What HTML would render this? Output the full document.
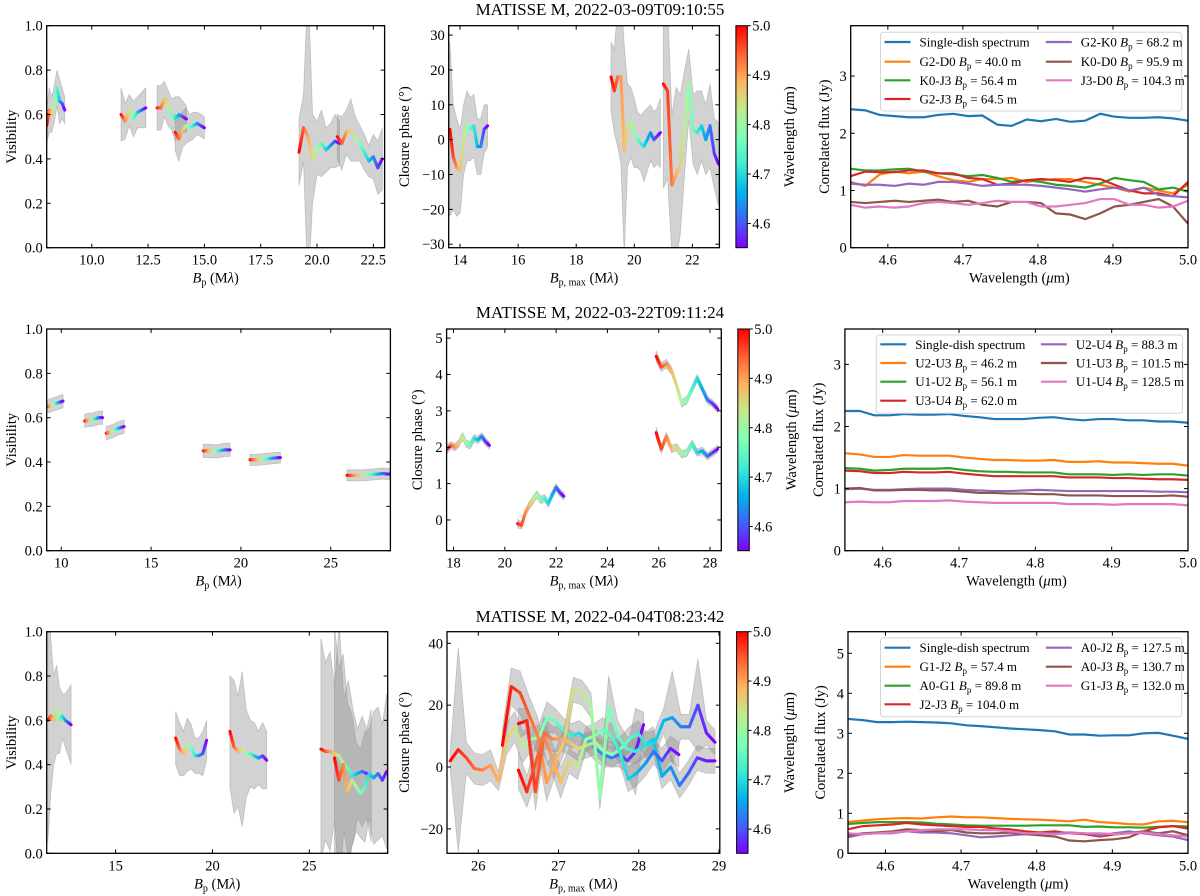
<!DOCTYPE html>
<html><head><meta charset="utf-8"><style>
html,body{margin:0;padding:0;background:#fff}
svg{display:block;font-family:"Liberation Serif","DejaVu Serif",serif}
</style></head><body>
<svg id="fig" width="1200" height="896" viewBox="0 0 1200 896" xmlns="http://www.w3.org/2000/svg">
<defs>
<linearGradient id="rb" x1="0" y1="1" x2="0" y2="0">
<stop offset="0" stop-color="#8000ff"/><stop offset="0.125" stop-color="#4062fa"/><stop offset="0.25" stop-color="#00b5eb"/><stop offset="0.375" stop-color="#40ecd4"/><stop offset="0.5" stop-color="#80ffb4"/><stop offset="0.625" stop-color="#c0eb8d"/><stop offset="0.75" stop-color="#ffb360"/><stop offset="0.875" stop-color="#ff6130"/><stop offset="1" stop-color="#ff0000"/>
</linearGradient>
</defs>
</svg>
<script>
// ---------- DATA ----------
const wl = [4.550,4.570,4.589,4.609,4.628,4.648,4.667,4.687,4.707,4.726,4.746,4.765,4.785,4.804,4.824,4.843,4.863,4.883,4.902,4.922,4.941,4.961,4.980,5.000];
// Row 1 visibility
const vis1Ranges = [[8.0,8.8],[11.3,12.4],[12.9,14.2],[13.7,15.0],[19.2,21.0],[20.9,22.9]];
const vis1Vals = [[0.55,0.62,0.6,0.65,0.72,0.66,0.65,0.62],[0.6,0.57,0.62,0.58,0.61,0.62,0.63],[0.63,0.63,0.67,0.63,0.6,0.58,0.6,0.59,0.58],[0.52,0.49,0.53,0.55,0.54,0.55,0.56,0.55,0.54],[0.43,0.54,0.5,0.4,0.45,0.47,0.44,0.46,0.48,0.47],[0.5,0.47,0.52,0.53,0.49,0.47,0.43,0.39,0.41,0.36,0.4]];
const vis1Errs = [[0.08,0.1,0.08,0.08,0.08,0.1,0.07,0.06],[0.12,0.08,0.07,0.08,0.07,0.08,0.09],[0.1,0.1,0.08,0.08,0.07,0.1,0.08,0.07,0.06],[0.08,0.1,0.08,0.08,0.06,0.06,0.05,0.05,0.05],[0.15,0.15,0.7,0.2,0.12,0.15,0.1,0.1,0.12,0.1],[0.1,0.12,0.1,0.14,0.1,0.08,0.08,0.07,0.1,0.12,0.14]];
// Row 1 closure phase
const cp1Ranges = [[13.65,14.95],[19.2,20.9],[21.0,22.9]];
const cp1Vals = [[3,-5,-8,-9,0,4,3,4,-2,-2,3,4],[18,14,18,18,-3,4,5,2,0,-1,-2,0,2,0,1,2],[16,14,-13,-10,-7,5,16,3,2,4,0,4,-4,-7]];
const cp1Errs = [[25,15,14,12,10,10,9,9,8,8,7,6],[10,12,20,25,30,12,10,10,8,8,10,9,8,8,8,10],[30,25,20,25,20,15,10,10,12,10,10,12,10,12]];
// Row 1 correlated flux
const fluxLabels1 = ["Single-dish spectrum","G2-D0","K0-J3","G2-J3","G2-K0","K0-D0","J3-D0"];
const fluxBp1 = ["","40.0","56.4","64.5","68.2","95.9","104.3"];
const flux1 = [
[2.42,2.4,2.32,2.3,2.28,2.28,2.32,2.34,2.3,2.31,2.15,2.13,2.24,2.21,2.25,2.2,2.22,2.34,2.29,2.27,2.27,2.28,2.26,2.22],
[1.15,1.08,1.28,1.33,1.3,1.33,1.25,1.18,1.15,1.2,1.2,1.22,1.15,1.18,1.2,1.2,1.15,1.1,1.05,0.98,1.05,1.0,0.95,1.1],
[1.38,1.35,1.35,1.37,1.38,1.33,1.3,1.28,1.25,1.27,1.22,1.15,1.18,1.15,1.1,1.08,1.05,1.12,1.22,1.18,1.15,1.02,1.05,0.98],
[1.25,1.33,1.32,1.32,1.35,1.35,1.3,1.3,1.22,1.2,1.1,1.12,1.18,1.2,1.18,1.15,1.22,1.2,1.1,1.0,0.95,0.95,0.9,1.15],
[1.12,1.1,1.1,1.08,1.12,1.1,1.15,1.15,1.12,1.08,1.1,1.1,1.1,1.08,1.05,1.02,0.98,1.02,1.05,1.0,1.05,0.92,0.9,0.88],
[0.8,0.78,0.8,0.82,0.8,0.82,0.84,0.8,0.82,0.75,0.72,0.8,0.8,0.78,0.6,0.58,0.5,0.6,0.72,0.75,0.8,0.85,0.72,0.42],
[0.75,0.7,0.72,0.7,0.72,0.78,0.8,0.78,0.75,0.78,0.82,0.8,0.8,0.72,0.72,0.75,0.78,0.85,0.85,0.75,0.75,0.7,0.72,0.82]];
// Row 2 visibility
const vis2Ranges = [[9.2,10.1],[11.3,12.3],[12.5,13.5],[17.9,19.4],[20.5,22.2],[25.9,28.3]];
const vis2Vals = [[0.65,0.655,0.66,0.665,0.67,0.675],[0.585,0.59,0.59,0.595,0.6,0.6],[0.53,0.535,0.54,0.55,0.555,0.56],[0.45,0.45,0.448,0.45,0.455,0.455],[0.41,0.41,0.412,0.415,0.418,0.42],[0.34,0.34,0.34,0.342,0.345,0.348,0.345]];
const vis2Errs = [[0.03,0.03,0.03,0.03,0.03,0.03],[0.03,0.03,0.03,0.03,0.03,0.03],[0.03,0.03,0.03,0.03,0.03,0.03],[0.03,0.03,0.03,0.03,0.03,0.03],[0.025,0.025,0.025,0.025,0.025,0.025],[0.025,0.025,0.025,0.025,0.025,0.025,0.025]];
// Row 2 closure phase
const cp2Ranges = [[17.75,19.4],[20.5,22.3],[25.9,28.3],[25.9,28.3]];
const cp2Vals = [[1.95,2.05,2.0,2.1,2.3,2.1,2.05,2.25,2.2,2.3,2.15,2.05],[-0.1,-0.15,0.2,0.4,0.55,0.7,0.55,0.6,0.45,0.7,0.9,0.75,0.65],[4.5,4.2,4.3,4.1,3.7,3.2,3.3,3.6,3.9,3.6,3.3,3.2,3.05],[2.4,1.95,2.3,1.95,2.0,1.8,1.85,2.1,1.85,1.9,1.75,1.85,1.95]];
const cp2Errs = [[0.12,0.1,0.1,0.1,0.1,0.1,0.1,0.1,0.1,0.1,0.1,0.1],[0.12,0.1,0.1,0.1,0.1,0.1,0.1,0.1,0.1,0.1,0.1,0.1,0.1],[0.15,0.12,0.12,0.1,0.1,0.1,0.1,0.1,0.1,0.1,0.1,0.1,0.1],[0.15,0.12,0.1,0.1,0.1,0.1,0.1,0.1,0.1,0.1,0.1,0.1,0.1]];
const fluxLabels2 = ["Single-dish spectrum","U2-U3","U1-U2","U3-U4","U2-U4","U1-U3","U1-U4"];
const fluxBp2 = ["","46.2","56.1","62.0","88.3","101.5","128.5"];
const flux2 = [
[2.25,2.25,2.18,2.18,2.2,2.19,2.19,2.2,2.17,2.15,2.12,2.12,2.12,2.14,2.15,2.12,2.1,2.12,2.12,2.1,2.1,2.08,2.08,2.06],
[1.57,1.55,1.51,1.51,1.54,1.53,1.53,1.53,1.5,1.48,1.46,1.46,1.45,1.45,1.46,1.43,1.43,1.44,1.42,1.42,1.41,1.4,1.4,1.37],
[1.33,1.32,1.29,1.3,1.32,1.32,1.32,1.33,1.3,1.28,1.27,1.27,1.26,1.26,1.26,1.23,1.23,1.23,1.22,1.23,1.22,1.23,1.23,1.21],
[1.29,1.28,1.25,1.25,1.27,1.26,1.26,1.27,1.24,1.22,1.2,1.2,1.2,1.2,1.2,1.18,1.18,1.18,1.17,1.17,1.16,1.15,1.15,1.14],
[0.99,1.0,0.98,0.98,0.99,1.0,1.0,1.0,0.98,0.97,0.96,0.96,0.97,0.98,0.97,0.96,0.96,0.96,0.96,0.96,0.96,0.95,0.95,0.94],
[1.0,1.01,0.97,0.97,0.98,0.98,0.97,0.97,0.95,0.93,0.93,0.92,0.92,0.91,0.91,0.89,0.89,0.89,0.88,0.88,0.88,0.88,0.89,0.87],
[0.78,0.79,0.78,0.78,0.8,0.8,0.8,0.81,0.79,0.78,0.77,0.77,0.77,0.77,0.77,0.75,0.75,0.75,0.74,0.75,0.75,0.75,0.75,0.73]];
// Row 3 visibility
const vis3Ranges = [[11.5,12.7],[18.1,19.7],[20.9,22.8],[25.6,28.2],[26.3,29.0]];
const vis3Vals = [[0.6,0.62,0.6,0.65,0.6,0.62,0.6,0.59,0.58],[0.52,0.47,0.45,0.49,0.48,0.44,0.44,0.45,0.51],[0.55,0.48,0.46,0.47,0.45,0.45,0.44,0.43,0.44,0.42],[0.47,0.46,0.46,0.45,0.44,0.4,0.38,0.35,0.36,0.37,0.36,0.35],[0.43,0.33,0.4,0.28,0.33,0.3,0.27,0.3,0.36,0.34,0.36,0.33,0.37]];
const vis3Errs = [[0.55,0.35,0.2,0.2,0.15,0.1,0.12,0.15,0.18],[0.12,0.12,0.1,0.12,0.1,0.08,0.08,0.1,0.09],[0.25,0.3,0.25,0.35,0.2,0.15,0.15,0.12,0.15,0.13],[0.5,0.4,0.45,0.3,0.6,0.3,0.4,0.3,0.2,0.25,0.2,0.3],[0.6,0.5,0.5,0.4,0.3,0.2,0.2,0.25,0.2,0.3,0.3,0.25,0.35]];
// Row 3 closure phase
const cp3Ranges = [[25.65,28.06],[26.3,28.95],[26.5,28.95],[26.5,28.5]];
const cp3Vals = [[2,5.6,3,-0.5,-1,0.5,-4.6,9,13,6.5,9,9.5,16,15,12,10,11,9,6,4,3,4,2,5,13.7],[7,26,24,17,10,-5,1.6,8.6,25,24,20,-9.7,19.5,10,6,5,7,9,-3,0,-6,-2,3,2,2],[14,15,-8,11,9,9,8,6,7,8,5,4,6,9,11,7,8,15,16,13,13,20,11,8],[-1,-8,1,10,3,-5,2,0,9,10,12,10,5,-4,-2,1,5,2,6,4]];
const cp3Errs = [[3,33,5,5,5,5,3,5,5,5,4,4,5,4,4,4,4,4,4,4,3,4,4,14,4],[5,6,7,6,6,6,4,4,4,4,4,4,10,5,4,4,4,4,4,4,4,4,4,4,4],[5,4,6,5,4,4,4,4,4,4,4,4,4,4,4,4,4,4,15,4,4,15,4,4],[6,5,6,6,5,5,4,4,4,4,4,4,4,4,4,4,4,4,4,4]];
const fluxLabels3 = ["Single-dish spectrum","G1-J2","A0-G1","J2-J3","A0-J2","A0-J3","G1-J3"];
const fluxBp3 = ["","57.4","89.8","104.0","127.5","130.7","132.0"];
const flux3 = [
[3.36,3.33,3.28,3.28,3.29,3.28,3.27,3.25,3.2,3.18,3.15,3.12,3.1,3.08,3.05,2.97,2.97,2.94,2.95,2.95,3.0,3.01,2.94,2.86],
[0.78,0.82,0.85,0.87,0.88,0.87,0.9,0.92,0.9,0.9,0.88,0.86,0.85,0.84,0.82,0.8,0.84,0.78,0.76,0.73,0.72,0.8,0.81,0.78],
[0.73,0.76,0.78,0.78,0.78,0.77,0.74,0.72,0.7,0.69,0.69,0.69,0.69,0.7,0.7,0.7,0.66,0.67,0.65,0.65,0.64,0.66,0.68,0.67],
[0.6,0.68,0.7,0.72,0.76,0.72,0.7,0.68,0.66,0.66,0.62,0.6,0.55,0.52,0.55,0.5,0.48,0.42,0.47,0.5,0.55,0.65,0.68,0.62],
[0.4,0.48,0.5,0.5,0.55,0.52,0.52,0.5,0.45,0.4,0.42,0.45,0.48,0.5,0.5,0.52,0.5,0.45,0.5,0.55,0.5,0.45,0.42,0.33],
[0.45,0.5,0.52,0.55,0.6,0.58,0.55,0.58,0.52,0.5,0.5,0.52,0.48,0.45,0.42,0.32,0.3,0.33,0.35,0.4,0.55,0.5,0.55,0.45],
[0.5,0.48,0.5,0.52,0.55,0.58,0.6,0.6,0.6,0.58,0.58,0.55,0.5,0.5,0.48,0.5,0.5,0.5,0.48,0.5,0.52,0.48,0.45,0.42]];
const titles = ["MATISSE M, 2022-03-09T09:10:55","MATISSE M, 2022-03-22T09:11:24","MATISSE M, 2022-04-04T08:23:42"];
const cbTicks = [4.6,4.7,4.8,4.9,5.0];
const fluxXTicks = [4.6,4.7,4.8,4.9,5.0];

// ---------- DRAWING ----------
const NS="http://www.w3.org/2000/svg";
const svg=document.getElementById('fig');
function el(tag,attrs,parent){const e=document.createElementNS(NS,tag);for(const k in attrs)e.setAttribute(k,attrs[k]);(parent||svg).appendChild(e);return e;}
const tab=["#1f77b4","#ff7f0e","#2ca02c","#d62728","#9467bd","#8c564b","#e377c2"];
function rainbow(t){t=Math.max(0,Math.min(1,t));const r=Math.min(1,Math.abs(2*t-0.5)),g=Math.sin(Math.PI*t),b=Math.cos(Math.PI/2*t);return `rgb(${Math.round(r*255)},${Math.round(g*255)},${Math.round(b*255)})`;}
let clipId=0;
function makeAxes(box,xd,yd){
  const [x0,y0,x1,y1]=box;
  const sx=v=>x0+(v-xd[0])/(xd[1]-xd[0])*(x1-x0);
  const sy=v=>y1-(v-yd[0])/(yd[1]-yd[0])*(y1-y0);
  const id='c'+(clipId++);
  const cp=el('clipPath',{id:id});el('rect',{x:x0,y:y0,width:x1-x0,height:y1-y0},cp);
  const g=el('g',{'clip-path':`url(#${id})`});
  return {sx,sy,g,box};
}
function frame(ax,xt,yt,xfmt,yfmt,name){
  const [x0,y0,x1,y1]=ax.box;
  const g=el('g',{});
  
  
  el('rect',{x:x0,y:y0,width:x1-x0,height:y1-y0,fill:'none',stroke:'#000','stroke-width':1.3},g);
  xt.forEach(v=>{const x=ax.sx(v);
    el('line',{x1:x,y1:y1,x2:x,y2:y1-4,stroke:'#000','stroke-width':1},g);
    el('line',{x1:x,y1:y0,x2:x,y2:y0+4,stroke:'#000','stroke-width':1},g);
    const t=el('text',{x:x,y:y1+17,'font-size':14.5,'text-anchor':'middle'},g);t.textContent=xfmt(v);
    });
  yt.forEach(v=>{const y=ax.sy(v);
    el('line',{x1:x0,y1:y,x2:x0+4,y2:y,stroke:'#000','stroke-width':1},g);
    el('line',{x1:x1,y1:y,x2:x1-4,y2:y,stroke:'#000','stroke-width':1},g);
    const t=el('text',{x:x0-4,y:y+5,'font-size':14.5,'text-anchor':'end'},g);t.textContent=yfmt(v);
    });
}
function bandSeries(ax,ranges,vals,errs,name){
  ranges.forEach((r,k)=>{
    const v=vals[k],e=errs[k],n=v.length;
    const xs=v.map((_,i)=>r[0]+(r[1]-r[0])*i/(n-1));
    let d='';xs.forEach((x,i)=>{d+=(i?'L':'M')+ax.sx(x)+','+ax.sy(v[i]+e[i]);});
    for(let i=n-1;i>=0;i--)d+='L'+ax.sx(xs[i])+','+ax.sy(v[i]-e[i]);
    const p=el('path',{d:d+'Z',fill:'#8a8a8a','fill-opacity':0.38,stroke:'#999','stroke-opacity':0.5,'stroke-width':0.8},ax.g);
    
    
  });
  ranges.forEach((r,k)=>{
    const v=vals[k],n=v.length;
    const xs=v.map((_,i)=>r[0]+(r[1]-r[0])*i/(n-1));
    const g=el('g',{},ax.g);
    
    
    const S=6;
    for(let i=0;i<n-1;i++){for(let s=0;s<S;s++){
      const a=s/S,b=(s+1)/S;
      const xa=xs[i]+(xs[i+1]-xs[i])*a,ya=v[i]+(v[i+1]-v[i])*a;
      const xb=xs[i]+(xs[i+1]-xs[i])*b,yb=v[i]+(v[i+1]-v[i])*b;
      const t=1-(i+(a+b)/2)/(n-1);
      el('line',{x1:ax.sx(xa),y1:ax.sy(ya),x2:ax.sx(xb),y2:ax.sy(yb),stroke:rainbow(t),'stroke-width':3,'stroke-linecap':'round'},g);
    }}
  });
}
function txt(x,y,s,size,attrs,name){const t=el('text',Object.assign({x:x,y:y,'font-size':size},attrs||{}));t.innerHTML=s;return t;}
const BP='<tspan font-style="italic">B</tspan><tspan font-size="10" dy="3">p</tspan>';
function rowDraw(r){
  const cfg=[
   {L:[46.7,25.7,384.6,247.7],Lx:[8,23],Lt:[10,12.5,15,17.5,20,22.5],Lf:v=>v.toFixed(1),
    M:[448.7,25.7,719.4,247.7],Mx:[13.61,22.93],My:[-31,32.7],Mxt:[14,16,18,20,22],Myt:[-30,-20,-10,0,10,20,30],
    CB:[735.9,747.3],R:[850.7,25.7,1188,247.7],Ry:[0,3.88],Ryt:[0,1,2,3],leg:[880.5,32.3,1181.7,111],rows:[42,61.7,80.3,99],c2:1045.8,
    vr:vis1Ranges,vv:vis1Vals,ve:vis1Errs,cr:cp1Ranges,cv:cp1Vals,ce:cp1Errs,fl:flux1,lab:fluxLabels1,bp:fluxBp1,ylx:[11,404,789,824],ty:15},
   {L:[46.7,329,390.4,550.7],Lx:[9.19,28.32],Lt:[10,15,20,25],Lf:v=>String(v),
    M:[446.6,329,721.3,550.7],Mx:[17.73,28.44],My:[-0.845,5.25],Mxt:[18,20,22,24,26,28],Myt:[0,1,2,3,4,5],
    CB:[737.8,749.3],R:[844.9,329,1188,550.7],Ry:[0,3.57],Ryt:[0,1,2,3],leg:[876.3,335,1182.5,413.3],rows:[344.3,363,381.7,400.7],c2:1040.9,
    vr:vis2Ranges,vv:vis2Vals,ve:vis2Errs,cr:cp2Ranges,cv:cp2Vals,ce:cp2Errs,fl:flux2,lab:fluxLabels2,bp:fluxBp2,ylx:[11,417,791,818],ty:318},
   {L:[46.7,631.7,387.7,853.3],Lx:[11.44,29.05],Lt:[15,20,25],Lf:v=>String(v),
    M:[447,631.7,719.8,853.3],Mx:[25.61,29.01],My:[-27.9,43.75],Mxt:[26,27,28,29],Myt:[-20,0,20,40],
    CB:[736.6,748],R:[848,631.7,1188,853.3],Ry:[0,5.54],Ryt:[0,1,2,3,4,5],leg:[880.5,637.7,1181.7,716.7],rows:[647.7,666.7,685.7,704.3],c2:1045.8,
    vr:vis3Ranges,vv:vis3Vals,ve:vis3Errs,cr:cp3Ranges,cv:cp3Vals,ce:cp3Errs,fl:flux3,lab:fluxLabels3,bp:fluxBp3,ylx:[11,404,789,820],ty:622}][r];
  const rn='row'+(r+1);
  // title
  txt(600,cfg.ty,titles[r],17,{'text-anchor':'middle'},rn+'-title');
  // Visibility
  const a=makeAxes(cfg.L,cfg.Lx,[0,1]);
  bandSeries(a,cfg.vr,cfg.vv,cfg.ve,rn+'-visibility');
  frame(a,cfg.Lt,[0,0.2,0.4,0.6,0.8,1.0],cfg.Lf,v=>v.toFixed(1),rn+'-visibility');
  const lc=(cfg.L[0]+cfg.L[2])/2, by=cfg.L[3]+35;
  txt(lc,by,BP+'<tspan dy="-3"> (M</tspan><tspan font-style="italic">λ</tspan>)',14.5,{'text-anchor':'middle'},rn+'-visibility-x-title');
  txt(0,0,'Visibility',14.5,{'text-anchor':'middle',transform:`translate(${cfg.ylx[0]+5},${(cfg.L[1]+cfg.L[3])/2}) rotate(-90)`},rn+'-visibility-y-title');
  // Closure phase
  const m=makeAxes(cfg.M,cfg.Mx,cfg.My);
  bandSeries(m,cfg.cr,cfg.cv,cfg.ce,rn+'-closure-phase');
  frame(m,cfg.Mxt,cfg.Myt,v=>String(v),v=>v<0?'−'+(-v):String(v),rn+'-closure-phase');
  const mc=(cfg.M[0]+cfg.M[2])/2;
  txt(mc,by,'<tspan font-style="italic">B</tspan><tspan font-size="10" dy="3">p, max</tspan><tspan dy="-3"> (M</tspan><tspan font-style="italic">λ</tspan>)',14.5,{'text-anchor':'middle'},rn+'-closure-phase-x-title');
  txt(0,0,'Closure phase (°)',14.5,{'text-anchor':'middle',transform:`translate(${cfg.ylx[1]+5},${(cfg.M[1]+cfg.M[3])/2}) rotate(-90)`},rn+'-closure-phase-y-title');
  // Colorbar
  const [c0,c1]=cfg.CB, cy0=cfg.M[1], cy1=cfg.M[3];
  const cb=el('rect',{x:c0,y:cy0,width:c1-c0,height:cy1-cy0,fill:'url(#rb)',stroke:'#000','stroke-width':1});
  
  
  cbTicks.forEach(v=>{const y=cy1-(v-4.551)/(5.0-4.551)*(cy1-cy0);
    el('line',{x1:c1,y1:y,x2:c1+3.5,y2:y,stroke:'#000','stroke-width':1});
    txt(c1+5,y+5,v.toFixed(1),14.5,{},rn+'-colorbar-tick');});
  txt(0,0,'Wavelength (<tspan font-style="italic">μ</tspan>m)',14.5,{'text-anchor':'middle',transform:`translate(${cfg.ylx[2]+5},${(cy0+cy1)/2}) rotate(-90)`},rn+'-colorbar-title');
  // Flux
  const f=makeAxes(cfg.R,[4.5505,5.0],cfg.Ry);
  cfg.fl.forEach((s,k)=>{let d='';s.forEach((v,i)=>{d+=(i?'L':'M')+f.sx(wl[i])+','+f.sy(v);});
    const p=el('path',{d:d,fill:'none',stroke:tab[k],'stroke-width':2.2},f.g);
    
    });
  frame(f,fluxXTicks,cfg.Ryt,v=>v.toFixed(1),v=>String(v),rn+'-flux');
  const fc=(cfg.R[0]+cfg.R[2])/2;
  txt(fc,by,'Wavelength (<tspan font-style="italic">μ</tspan>m)',14.5,{'text-anchor':'middle'},rn+'-flux-x-title');
  txt(0,0,'Correlated flux (Jy)',14.5,{'text-anchor':'middle',transform:`translate(${cfg.ylx[3]+5},${(cfg.R[1]+cfg.R[3])/2}) rotate(-90)`},rn+'-flux-y-title');
  // legend
  const [lx0,ly0,lx1,ly1]=cfg.leg;
  const lg=el('g',{});
  
  
  el('rect',{x:lx0,y:ly0,width:lx1-lx0,height:ly1-ly0,rx:3,fill:'#fff','fill-opacity':0.85,stroke:'#d5d5d5','stroke-width':1},lg);
  cfg.lab.forEach((s,k)=>{
    const col=k<4?0:1, row=k<4?k:k-4;
    const xl=col?cfg.c2:lx0+4, y=cfg.rows[row];
    el('line',{x1:xl,y1:y,x2:xl+26,y2:y,stroke:tab[k],'stroke-width':2.2},lg);
    const t=el('text',{x:xl+35,y:y+4.5,'font-size':13},lg);
    t.innerHTML=k===0?s:s+' <tspan font-style="italic">B</tspan><tspan font-size="9" dy="3">p</tspan><tspan dy="-3"> = '+cfg.bp[k]+' m</tspan>';
    
    
  });
}
[0,1,2].forEach(rowDraw);
</script>
</body></html>
